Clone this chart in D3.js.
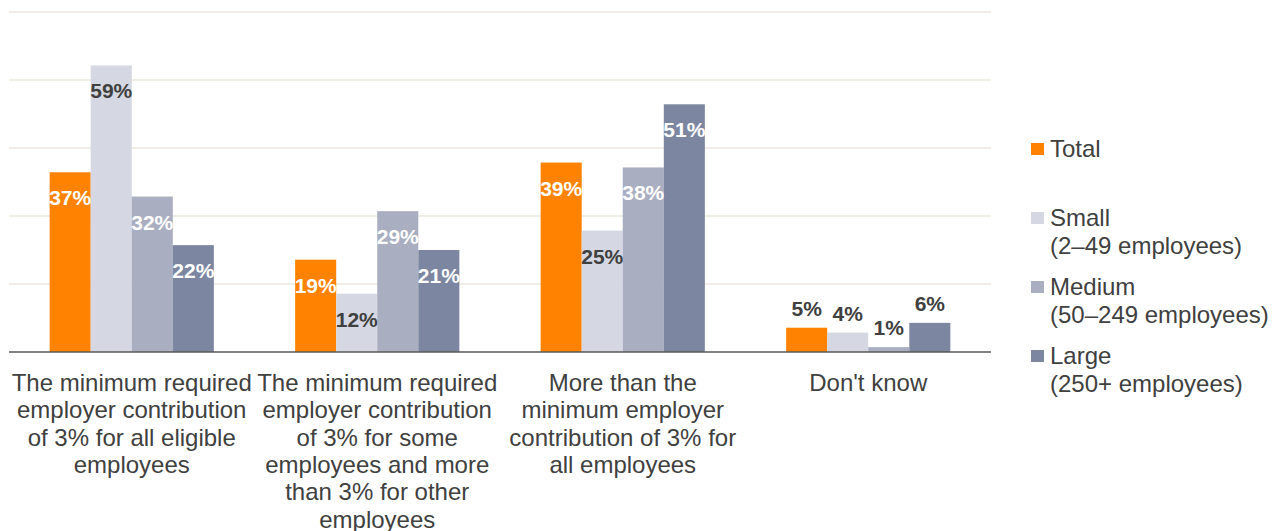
<!DOCTYPE html>
<html lang="en">
<head>
<meta charset="UTF-8">
<title>Employer contribution by company size</title>
<script src="https://d3js.org/d3.v7.min.js"></script>
<style>
    body { margin: 0; background: #fff; font-family: "Liberation Sans", Arial, sans-serif; }
    .grid line { stroke: #ebe7df; stroke-width: 1.5; }
    .cat-label { font-size: 24px; fill: #404040; }
    .val { font-size: 21px; font-weight: bold; }
    .legend text { font-size: 24px; fill: #404040; }
</style>
</head>
<body>
<svg id="chart" width="1284" height="531"></svg>
<script>
// categories, one array of lines per tick label
const categories = [
    ["The minimum required", "employer contribution", "of 3% for all eligible", "employees"],
    ["The minimum required", "employer contribution", "of 3% for some", "employees and more", "than 3% for other", "employees"],
    ["More than the", "minimum employer", "contribution of 3% for", "all employees"],
    ["Don't know"]
];
const seriesNames = ["Total", "Small", "Medium", "Large"];
const seriesSub = ["", "(2\u201349 employees)", "(50\u2013249 employees)", "(250+ employees)"];
const total  = [37, 19, 39, 5];
const small  = [59, 12, 25, 4];
const medium = [32, 29, 38, 1];
const large  = [22, 21, 51, 6];
const gridTicks = [0, 14, 28, 42, 56, 70];

const colors = ["#ff8200", "#d5d8e2", "#a9aec0", "#7c86a1"];
const labelColors = ["#fff", "#404040", "#fff", "#fff"];

const svg = d3.select("#chart");
const plotLeft = 9, plotRight = 991, plotTop = 12, plotBottom = 352;

const x0 = d3.scaleBand().domain(d3.range(categories.length)).range([plotLeft, plotRight]).padding(0);
const x1 = d3.scaleBand().domain(seriesNames).range([0, x0.bandwidth()])
    .paddingInner(0).paddingOuter(0.99);
const y = d3.scaleLinear().domain([0, 70]).range([plotBottom, plotTop]);

// gridlines
svg.append("g").attr("class", "grid")
    .selectAll("line").data(gridTicks.slice(1)).join("line")
    .attr("x1", plotLeft).attr("x2", plotRight)
    .attr("y1", d => y(d)).attr("y2", d => y(d));

const values = [total, small, medium, large];
const rows = [];
categories.forEach((c, i) => {
    seriesNames.forEach((s, j) => rows.push({ cat: i, s: s, j: j, v: values[j][i] }));
});

const g = svg.append("g");
g.selectAll("rect").data(rows).join("rect")
    .attr("x", d => x0(d.cat) + x1(d.s))
    .attr("y", d => y(d.v))
    .attr("width", x1.bandwidth())
    .attr("height", d => y(0) - y(d.v))
    .attr("fill", d => colors[d.j]);

// value labels: inside for big bars, above for small ones
g.selectAll("text").data(rows).join("text")
    .attr("class", "val")
    .attr("text-anchor", "middle")
    .attr("x", d => x0(d.cat) + x1(d.s) + x1.bandwidth() / 2)
    .attr("y", d => d.v >= 10 ? y(d.v) + 33 : y(d.v) - 12)
    .attr("fill", d => d.v >= 10 ? labelColors[d.j] : "#404040")
    .text(d => d.v + "%");

// baseline
svg.append("line")
    .attr("x1", plotLeft).attr("x2", plotRight)
    .attr("y1", y(0)).attr("y2", y(0))
    .attr("stroke", "#595959").attr("stroke-width", 1.5);

// category labels
const cl = svg.append("g");
categories.forEach((lines, i) => {
    const cx = x0(i) + x0.bandwidth() / 2;
    const t = cl.append("text").attr("class", "cat-label")
        .attr("text-anchor", "middle")
        .attr("x", cx)
        .attr("y", 391);
    lines.forEach((ln, k) => {
        t.append("tspan").attr("x", cx)
            .attr("dy", k === 0 ? 0 : 27.3).text(ln);
    });
});

// legend
const lg = svg.append("g").attr("class", "legend");
seriesNames.forEach((s, j) => {
    const yy = 149 + j * 69;
    lg.append("rect").attr("x", 1031).attr("y", yy - 6).attr("width", 13).attr("height", 12)
        .attr("fill", colors[j]);
    const t = lg.append("text").attr("x", 1050).attr("y", yy + 8);
    t.append("tspan").text(s);
    if (seriesSub[j]) {
        t.append("tspan").attr("x", 1050).attr("dy", 27.5).text(seriesSub[j]);
    }
});
</script>
</body>
</html>
